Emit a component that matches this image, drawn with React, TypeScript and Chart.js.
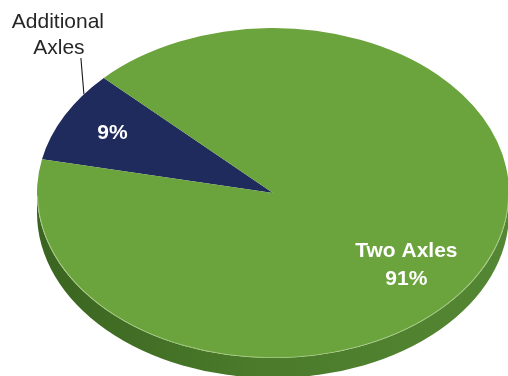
import React, { useEffect, useRef } from "react";
import { Chart, registerables } from "chart.js";

Chart.register(...registerables);

// ---- data ----
const categories: string[] = ["Additional Axles", "Two Axles"];
const shares: number[] = [9, 91];
const sliceColors: string[] = ["#1f2b5d", "#6ba33d"];

// ---- layout / style constants ----
const W = 508;
const H = 376;
const SX = 236 / 165; // horizontal stretch to fake the tilt
const DEPTH = 20;
const FONT = "'Liberation Sans', Arial, Helvetica, sans-serif";

const pct = (i: number) => {
  const sum = shares.reduce((a, b) => a + b, 0);
  return Math.round((shares[i] / sum) * 100) + "%";
};

const pie3d = {
  id: "pie3d",
  beforeDatasetsDraw(chart: any) {
    const ctx: CanvasRenderingContext2D = chart.ctx;
    const arcs = chart.getDatasetMeta(0).data;
    if (!arcs.length) return;
    const { x, y, outerRadius: r } = arcs[0] as any;
    ctx.save();
    ctx.translate(x, y);
    ctx.scale(SX, 1);
    ctx.translate(-x, -y);
    // side wall (front half)
    const g = ctx.createLinearGradient(x - r, 0, x + r, 0);
    g.addColorStop(0, "#3a6420");
    g.addColorStop(0.45, "#4a7a2a");
    g.addColorStop(1, "#548733");
    ctx.beginPath();
    ctx.arc(x, y + DEPTH, r, 0, Math.PI, false);
    ctx.lineTo(x - r, y);
    ctx.arc(x, y, r, Math.PI, 0, true);
    ctx.closePath();
    ctx.fillStyle = g;
    ctx.fill();
  },
  afterDatasetsDraw(chart: any) {
    const ctx: CanvasRenderingContext2D = chart.ctx;
    const arcs = chart.getDatasetMeta(0).data as any[];
    if (!arcs.length) return;
    const { x, y, outerRadius: r } = arcs[0];
    // light rim on the front edge of the top face
    ctx.beginPath();
    ctx.arc(x, y, r - 0.3, 0.02, Math.PI - 0.02, false);
    ctx.strokeStyle = "rgba(190,220,160,0.7)";
    ctx.lineWidth = 0.7;
    ctx.stroke();
    ctx.restore();

    const pt = (a: any, f: number, t: number) => {
      const ang = a.startAngle + (a.endAngle - a.startAngle) * t;
      return [
        a.x + SX * a.outerRadius * f * Math.cos(ang),
        a.y + a.outerRadius * f * Math.sin(ang),
      ];
    };

    ctx.save();
    ctx.textAlign = "center";
    ctx.textBaseline = "middle";
    ctx.fillStyle = "#ffffff";
    ctx.font = "bold 21px " + FONT;
    const [x0, y0] = pt(arcs[0], 0.77, 0.5);
    ctx.fillText(pct(0), x0, y0);
    const [x1, y1] = pt(arcs[1], 0.64, 0.5);
    ctx.fillText(categories[1], x1, y1 + 9);
    ctx.fillText(pct(1), x1, y1 + 37);

    // outside label with leader line for the small slice
    const [ex, ey] = pt(arcs[0], 1, 0.77);
    const tx = ex - 3;
    const ty = 58;
    ctx.beginPath();
    ctx.moveTo(ex, ey);
    ctx.lineTo(tx, ty);
    ctx.strokeStyle = "#1a1a1a";
    ctx.lineWidth = 1.1;
    ctx.stroke();
    ctx.fillStyle = "#262626";
    ctx.font = "21px " + FONT;
    const words = categories[0].split(" ");
    ctx.fillText(words[0], tx - 23, ty - 36);
    ctx.fillText(words[1], tx - 22, ty - 10);
    ctx.restore();
  },
};

export default function App() {
  const ref = useRef<HTMLCanvasElement | null>(null);
  useEffect(() => {
    document.body.style.margin = "0";
    if (!ref.current) return;
    const chart = new Chart(ref.current, {
      type: "pie",
      data: {
        labels: categories,
        datasets: [
          {
            data: shares,
            backgroundColor: sliceColors,
            borderWidth: 0,
            clip: false as any,
          },
        ],
      },
      options: {
        responsive: false,
        animation: false,
        rotation: -78.2,
        events: [],
        layout: { padding: { top: 28, bottom: 18, left: 108, right: 70 } },
        plugins: {
          legend: { display: false },
          tooltip: { enabled: false },
        },
      },
      plugins: [pie3d],
    });
    return () => chart.destroy();
  }, []);
  return (
    <div style={{ width: W, height: H }}>
      <canvas ref={ref} width={W} height={H} />
    </div>
  );
}
